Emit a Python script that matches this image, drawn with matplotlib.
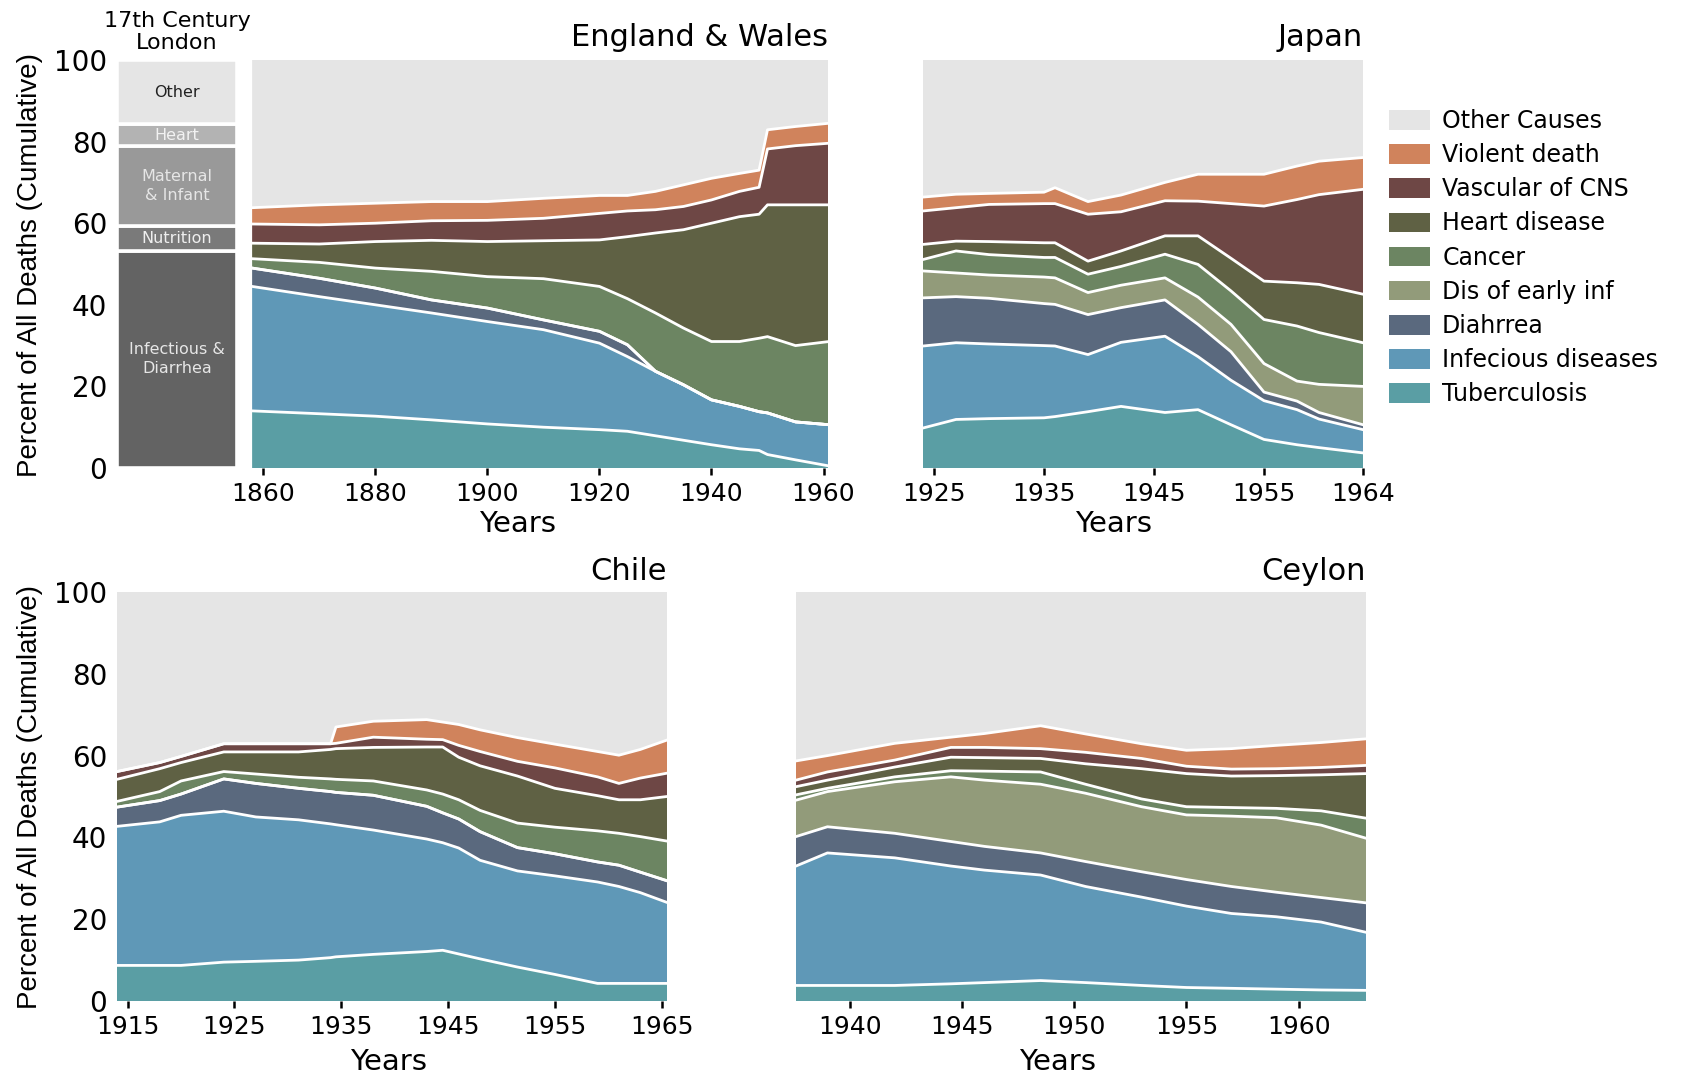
import numpy as np
import matplotlib.pyplot as plt
from matplotlib.patches import Patch

plt.rcParams['font.family'] = 'DejaVu Sans'

# causes, bottom of the stack first
causes = ["Tuberculosis", "Infecious diseases", "Diahrrea", "Dis of early inf",
          "Cancer", "Heart disease", "Vascular of CNS", "Violent death"]
cause_colors = ["#5a9ea4", "#5f98b7", "#5a697e", "#929b7a",
                "#6c8562", "#5f6144", "#6e4745", "#d0835c"]
other_label = "Other Causes"
other_color = "#e5e5e5"

# 17th century London (bar, bottom first)
london_labels = ["Infectious &\nDiarrhea", "Nutrition", "Maternal\n& Infant", "Heart", "Other"]
london_values = [53.3, 6.1, 19.4, 5.4, 15.8]
london_colors = ["#636363", "#7a7a7a", "#999999", "#b3b3b3", "#e5e5e5"]
london_text = ["#e6e6e6", "#eeeeee", "#e6e6e6", "#f2f2f2", "#222222"]

# England & Wales: cumulative upper boundary of each cause (%)
ew_years = [1858, 1870, 1880, 1890, 1900, 1910, 1920, 1925, 1930, 1935, 1940, 1945, 1948.5, 1950, 1955, 1961]
ew_tb = [14.0, 13.3, 12.7, 11.8, 10.8, 10.0, 9.4, 9.0, 7.9, 6.8, 5.7, 4.7, 4.3, 3.3, 2.0, 0.5]
ew_inf = [44.5, 42.0, 40.0, 38.0, 35.9, 33.9, 30.6, 27.3, 23.7, 20.4, 16.7, 15.1, 13.8, 13.5, 11.3, 10.6]
ew_diar = [49.0, 46.5, 44.1, 41.2, 39.2, 36.3, 33.5, 30.2, 23.7, 20.4, 16.7, 15.1, 13.8, 13.5, 11.3, 10.6]
ew_early = [49.0, 46.5, 44.1, 41.2, 39.2, 36.3, 33.5, 30.2, 23.7, 20.4, 16.7, 15.1, 13.8, 13.5, 11.3, 10.6]
ew_cancer = [51.3, 50.4, 49.0, 48.2, 46.9, 46.4, 44.5, 41.5, 38.0, 34.3, 31.0, 31.0, 31.8, 32.2, 30.0, 31.0]
ew_heart = [55.1, 54.9, 55.5, 55.8, 55.5, 55.7, 55.9, 56.7, 57.6, 58.4, 60.0, 61.6, 62.2, 64.5, 64.5, 64.5]
ew_vasc = [59.8, 59.6, 60.0, 60.6, 60.7, 61.2, 62.4, 63.0, 63.3, 64.1, 65.7, 67.8, 68.8, 78.2, 79.0, 79.6]
ew_violent = [63.8, 64.5, 64.9, 65.3, 65.3, 66.1, 66.8, 66.8, 67.8, 69.4, 71.0, 72.2, 73.0, 82.9, 83.7, 84.5]

# Japan
jp_years = [1924, 1927, 1930, 1935, 1936, 1939, 1942, 1946, 1949, 1952, 1955, 1958, 1960, 1964]
jp_tb = [9.8, 11.9, 12.1, 12.3, 12.6, 13.8, 15.1, 13.6, 14.3, 10.6, 7.0, 5.7, 5.0, 3.7]
jp_inf = [29.9, 30.7, 30.4, 30.0, 29.9, 27.8, 30.8, 32.3, 27.3, 21.5, 16.5, 14.3, 12.0, 9.4]
jp_diar = [41.7, 42.0, 41.6, 40.3, 40.1, 37.6, 39.3, 41.2, 35.2, 28.5, 18.6, 16.4, 13.6, 10.6]
jp_early = [48.3, 47.8, 47.3, 46.8, 46.6, 43.0, 44.8, 46.6, 41.9, 35.2, 25.6, 21.3, 20.5, 20.0]
jp_cancer = [51.1, 53.2, 52.3, 51.6, 51.6, 47.5, 49.4, 52.4, 49.9, 43.4, 36.4, 34.8, 33.2, 30.7]
jp_heart = [54.8, 55.6, 55.5, 55.2, 55.2, 50.7, 53.2, 56.9, 56.9, 51.4, 45.8, 45.4, 45.0, 42.6]
jp_vasc = [63.0, 63.8, 64.6, 64.8, 64.8, 62.2, 62.8, 65.5, 65.4, 64.8, 64.2, 65.8, 67.0, 68.3]
jp_violent = [66.4, 67.1, 67.3, 67.6, 68.7, 65.3, 66.9, 70.0, 72.0, 72.0, 72.0, 74.0, 75.2, 76.1]

# Chile
cl_years = [1914, 1918, 1920, 1924, 1927, 1931, 1934, 1934.5, 1938, 1943, 1944.5, 1946, 1948, 1951.5, 1955, 1959, 1961, 1963, 1965.5]
cl_tb = [8.7, 8.7, 8.7, 9.5, 9.7, 10.0, 10.6, 10.8, 11.4, 12.1, 12.4, 11.5, 10.3, 8.3, 6.5, 4.3, 4.3, 4.3, 4.3]
cl_inf = [42.7, 43.8, 45.4, 46.4, 45.0, 44.3, 43.3, 43.1, 41.8, 39.6, 38.7, 37.4, 34.4, 31.8, 30.6, 29.1, 28.0, 26.5, 24.1]
cl_diar = [47.4, 49.0, 50.6, 54.3, 53.2, 52.0, 51.2, 51.0, 50.3, 47.6, 46.0, 44.5, 41.4, 37.5, 36.0, 34.0, 33.2, 31.5, 29.4]
cl_early = [47.4, 49.0, 50.6, 54.3, 53.2, 52.0, 51.2, 51.0, 50.3, 47.6, 46.0, 44.5, 41.4, 37.5, 36.0, 34.0, 33.2, 31.5, 29.4]
cl_cancer = [48.8, 51.2, 53.8, 56.1, 55.5, 54.7, 54.3, 54.2, 53.8, 51.6, 50.6, 49.2, 46.6, 43.5, 42.5, 41.6, 41.0, 40.2, 39.1]
cl_heart = [54.2, 56.8, 58.3, 60.9, 60.9, 60.9, 61.5, 61.7, 62.0, 62.1, 62.1, 59.6, 57.5, 55.0, 52.0, 50.2, 49.2, 49.2, 50.0]
cl_vasc = [56.1, 58.3, 59.8, 62.9, 62.9, 62.9, 62.9, 63.0, 64.5, 64.0, 63.9, 62.5, 61.0, 58.6, 57.0, 54.8, 53.2, 54.5, 55.7]
cl_violent = [56.1, 58.3, 59.8, 62.9, 62.9, 62.9, 62.9, 67.0, 68.4, 68.8, 68.2, 67.6, 66.3, 64.4, 62.8, 61.0, 60.1, 61.5, 63.8]

# Ceylon
cy_years = [1937.6, 1939, 1942, 1944.5, 1946, 1948.5, 1950.5, 1953, 1955, 1957, 1959, 1961, 1963]
cy_tb = [3.8, 3.8, 3.8, 4.2, 4.5, 5.0, 4.5, 3.8, 3.3, 3.1, 2.9, 2.7, 2.6]
cy_inf = [33.0, 36.2, 35.0, 33.0, 32.0, 30.8, 28.0, 25.4, 23.2, 21.4, 20.6, 19.3, 16.8]
cy_diar = [40.2, 42.6, 41.0, 39.0, 37.8, 36.2, 34.1, 31.6, 29.7, 28.0, 26.6, 25.3, 24.0]
cy_early = [49.1, 51.2, 53.6, 54.8, 54.0, 53.0, 50.8, 47.5, 45.5, 45.2, 44.8, 43.0, 39.8]
cy_cancer = [50.4, 52.0, 54.8, 56.3, 56.2, 56.0, 53.0, 49.4, 47.5, 47.3, 47.1, 46.5, 44.7]
cy_heart = [52.4, 54.0, 57.2, 59.6, 59.5, 59.3, 58.0, 56.8, 55.6, 55.0, 55.1, 55.3, 55.6]
cy_vasc = [54.0, 56.0, 58.9, 62.0, 62.0, 61.7, 60.8, 59.3, 57.4, 56.7, 56.8, 57.1, 57.6]
cy_violent = [58.7, 60.0, 63.0, 64.5, 65.4, 67.3, 65.3, 62.9, 61.3, 61.7, 62.5, 63.2, 64.1]

W, H = 1700, 1075


def box(x0, y0, x1, y1):
    # pixel box (top-left origin) -> figure fraction rect
    return [x0 / W, 1 - y1 / H, (x1 - x0) / W, (y1 - y0) / H]


def draw_panel(ax, years, tops, xlim, ticks):
    lower = np.zeros(len(years))
    for top, color in zip(tops, cause_colors):
        top = np.array(top)
        ax.fill_between(years, lower, top, facecolor=color, edgecolor='none', lw=0)
        lower = top
    ax.fill_between(years, lower, 100, facecolor=other_color, edgecolor='none', lw=0)
    for top in tops:
        ax.plot(years, top, color='white', lw=2.0, solid_joinstyle='round')
    ax.set_xlim(*xlim)
    ax.set_ylim(0, 100)
    ax.set_xticks(ticks)
    for s in ax.spines.values():
        s.set_visible(False)
    ax.tick_params(axis='x', direction='out', length=5, width=1.8, color='black',
                   labelsize=18, pad=5)
    ax.tick_params(axis='y', length=0, labelsize=20, pad=7)
    ax.set_yticks([0, 20, 40, 60, 80, 100])
    ax.set_xlabel("Years", fontsize=21)
    ax.xaxis.label.set_va('center')


fig = plt.figure(figsize=(17, 10.75), dpi=100)

# London bar
ax_lon = fig.add_axes(box(117, 60, 237, 468))
bottom = 0
for val, col, lab, tcol in zip(london_values, london_colors, london_labels, london_text):
    ax_lon.bar(0, val, bottom=bottom, width=1, color=col, edgecolor='white', linewidth=2.6)
    ax_lon.text(0, bottom + val / 2, lab, ha='center', va='center', color=tcol,
                fontsize=11.5, linespacing=1.3)
    bottom += val
ax_lon.set_xlim(-0.5, 0.5)
ax_lon.set_ylim(0, 100)
ax_lon.set_xticks([])
ax_lon.set_yticks([0, 20, 40, 60, 80, 100])
ax_lon.tick_params(axis='y', length=0, labelsize=20, pad=7)
for s in ax_lon.spines.values():
    s.set_visible(False)
ax_lon.set_title("17th Century\nLondon", fontsize=16, pad=8, linespacing=1.1)

ax_ew = fig.add_axes(box(251, 60, 828, 468))
draw_panel(ax_ew, ew_years, [ew_tb, ew_inf, ew_diar, ew_early, ew_cancer, ew_heart, ew_vasc, ew_violent],
           (1857.8, 1960.8), [1860, 1880, 1900, 1920, 1940, 1960])
ax_ew.set_yticks([])
ax_ew.xaxis.set_label_coords(0.462, -0.137)

ax_jp = fig.add_axes(box(923, 60, 1363, 468))
draw_panel(ax_jp, jp_years, [jp_tb, jp_inf, jp_diar, jp_early, jp_cancer, jp_heart, jp_vasc, jp_violent],
           (1924, 1964), [1925, 1935, 1945, 1955, 1964])
ax_jp.set_yticks([])
ax_jp.xaxis.set_label_coords(0.434, -0.137)

ax_cl = fig.add_axes(box(117, 592, 667, 1001))
draw_panel(ax_cl, cl_years, [cl_tb, cl_inf, cl_diar, cl_early, cl_cancer, cl_heart, cl_vasc, cl_violent],
           (1914, 1965.5), [1915, 1925, 1935, 1945, 1955, 1965])
ax_cl.xaxis.set_label_coords(0.493, -0.148)

ax_cy = fig.add_axes(box(796, 592, 1366, 1001))
draw_panel(ax_cy, cy_years, [cy_tb, cy_inf, cy_diar, cy_early, cy_cancer, cy_heart, cy_vasc, cy_violent],
           (1937.6, 1963), [1940, 1945, 1950, 1955, 1960])
ax_cy.set_yticks([])
ax_cy.xaxis.set_label_coords(0.458, -0.148)

# panel titles
fig.text(828 / W, 1 - 37 / H, "England & Wales", ha='right', va='center', fontsize=22)
fig.text(1363 / W, 1 - 37 / H, "Japan", ha='right', va='center', fontsize=22)
fig.text(667 / W, 1 - 572 / H, "Chile", ha='right', va='center', fontsize=22)
fig.text(1366 / W, 1 - 572 / H, "Ceylon", ha='right', va='center', fontsize=22)

# y labels
ylab = "Percent of All Deaths (Cumulative)"
for yc in (265, 797):
    fig.text(30 / W, 1 - yc / H, ylab, rotation=90, ha='center', va='center', fontsize=20,
             family='Liberation Sans')

# legend
handles = [Patch(facecolor=other_color, edgecolor='none', label=other_label)]
for name, col in zip(causes[::-1], cause_colors[::-1]):
    handles.append(Patch(facecolor=col, edgecolor='none', label=name))
fig.legend(handles=handles, loc='upper left', bbox_to_anchor=(1389 / W, 1 - 109 / H),
           frameon=False, fontsize=17, handlelength=1.75, handleheight=0.9,
           handletextpad=0.5, labelspacing=0.43, borderpad=0, borderaxespad=0)

fig.savefig("out.png", dpi=100)
